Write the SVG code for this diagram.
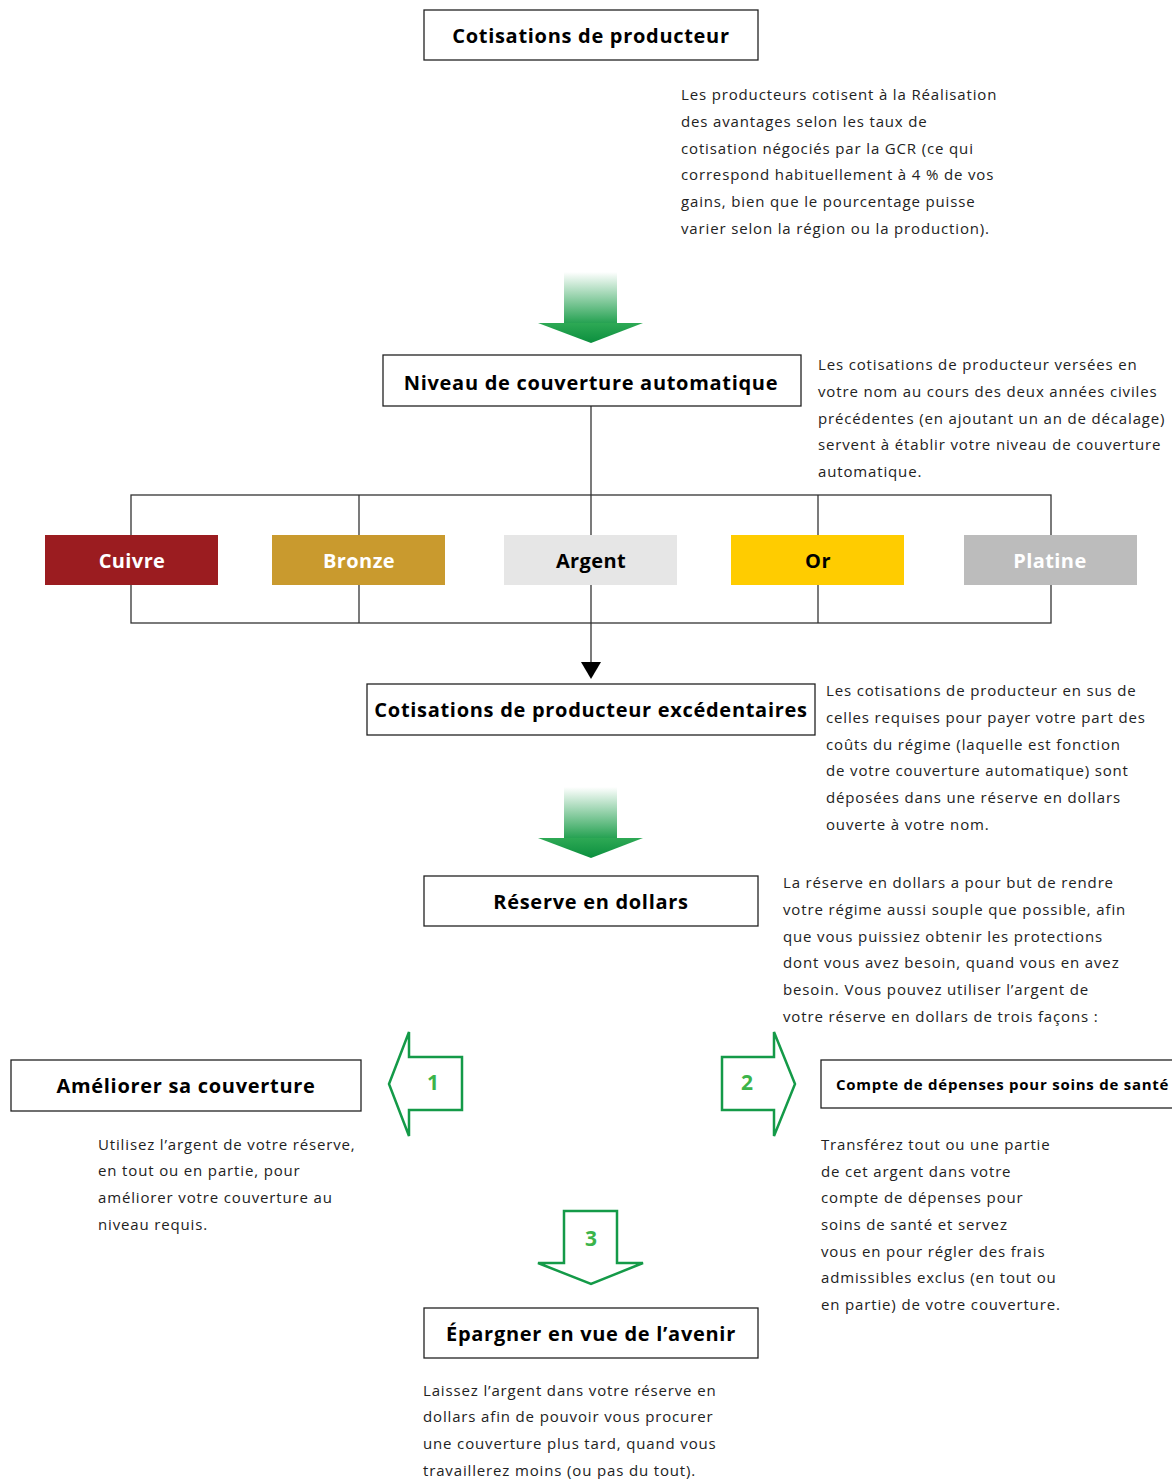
<svg xmlns="http://www.w3.org/2000/svg" width="1172" height="1479" viewBox="0 0 1172 1479">
<defs>
<linearGradient id="gshaft" x1="0" y1="0" x2="0" y2="1">
<stop offset="0" stop-color="#ffffff"/>
<stop offset="1" stop-color="#22a04f"/>
</linearGradient>
<linearGradient id="ghead" x1="0" y1="0" x2="0" y2="1">
<stop offset="0" stop-color="#2ea955"/>
<stop offset="1" stop-color="#0b8f3e"/>
</linearGradient>
</defs>
<style>
.box{fill:#fff;stroke:#222;stroke-width:1.3}
.title{font-family:"Open Sans","Liberation Sans",sans-serif;font-weight:bold;font-size:20px;fill:#000;text-anchor:middle;letter-spacing:0.7px}
.body{font-family:"Open Sans","Liberation Sans",sans-serif;font-size:15px;fill:#222;letter-spacing:0.85px}
.tier{font-family:"Open Sans","Liberation Sans",sans-serif;font-weight:bold;font-size:20px;text-anchor:middle;letter-spacing:0.4px}
.line{stroke:#333;stroke-width:1.3;fill:none}
.out{fill:#fff;stroke:#149a48;stroke-width:2.5}
.num{font-family:"Open Sans","Liberation Sans",sans-serif;font-weight:bold;font-size:21px;fill:#3bb44a;text-anchor:middle}
</style>

<g id="connectors">
<line class="line" x1="591" y1="406" x2="591" y2="495"/>
<rect class="line" x="131" y="495" width="920" height="128"/>
<line class="line" x1="359" y1="495" x2="359" y2="623"/>
<line class="line" x1="591" y1="495" x2="591" y2="623"/>
<line class="line" x1="818" y1="495" x2="818" y2="623"/>
<line class="line" x1="591" y1="623" x2="591" y2="663"/>
<path d="M581,662 L601,662 L591,679 z" fill="#000"/>
<g id="grad-arrow-1">
<rect x="564" y="272" width="53" height="52" fill="url(#gshaft)"/>
<path d="M538,323 L643,323 L591,343 z" fill="url(#ghead)"/>
</g>
<g id="grad-arrow-2">
<rect x="564" y="787" width="53" height="52" fill="url(#gshaft)"/>
<path d="M538,838 L643,838 L591,858 z" fill="url(#ghead)"/>
</g>
<g id="arrow-1">
<path class="out" d="M389,1084 L409,1032 L409,1057 L462,1057 L462,1110 L409,1110 L409,1136 z"/>
<text class="num" x="433" y="1090">1</text>
</g>
<g id="arrow-2">
<path class="out" d="M795,1084 L774,1032 L774,1057 L722,1057 L722,1110 L774,1110 L774,1136 z"/>
<text class="num" x="747" y="1090">2</text>
</g>
<g id="arrow-3">
<path class="out" d="M564,1211 L617,1211 L617,1263 L643,1263 L591,1284 L538,1263 L564,1263 z"/>
<text class="num" x="591" y="1246">3</text>
</g>
</g>

<g id="node-cotisations">
<rect class="box" x="424" y="10" width="334" height="50"/>
<text class="title" x="591" y="43">Cotisations de producteur</text>
</g>
<g id="text-cotisations">
<text class="body" x="681" y="100">Les producteurs cotisent à la Réalisation</text>
<text class="body" x="681" y="127">des avantages selon les taux de</text>
<text class="body" x="681" y="154">cotisation négociés par la GCR (ce qui</text>
<text class="body" x="681" y="180">correspond habituellement à 4 % de vos</text>
<text class="body" x="681" y="207">gains, bien que le pourcentage puisse</text>
<text class="body" x="681" y="234">varier selon la région ou la production).</text>
</g>

<g id="node-niveau">
<rect class="box" x="383" y="355" width="418" height="51"/>
<text class="title" x="591" y="390">Niveau de couverture automatique</text>
</g>
<g id="text-niveau">
<text class="body" x="818" y="370">Les cotisations de producteur versées en</text>
<text class="body" x="818" y="397">votre nom au cours des deux années civiles</text>
<text class="body" x="818" y="424">précédentes (en ajoutant un an de décalage)</text>
<text class="body" x="818" y="450">servent à établir votre niveau de couverture</text>
<text class="body" x="818" y="477">automatique.</text>
</g>

<g id="node-cuivre">
<rect x="45" y="535" width="173" height="50" fill="#9b1c20"/>
<text class="tier" x="132" y="568" fill="#fff">Cuivre</text>
</g>
<g id="node-bronze">
<rect x="272" y="535" width="173" height="50" fill="#c99a2e"/>
<text class="tier" x="359" y="568" fill="#fff">Bronze</text>
</g>
<g id="node-argent">
<rect x="504" y="535" width="173" height="50" fill="#e6e6e6"/>
<text class="tier" x="591" y="568" fill="#000">Argent</text>
</g>
<g id="node-or">
<rect x="731" y="535" width="173" height="50" fill="#ffcc00"/>
<text class="tier" x="818" y="568" fill="#000">Or</text>
</g>
<g id="node-platine">
<rect x="964" y="535" width="173" height="50" fill="#bcbcbc"/>
<text class="tier" x="1050" y="568" fill="#fff">Platine</text>
</g>

<g id="node-excedentaires">
<rect class="box" x="367" y="684" width="448" height="51"/>
<text class="title" x="591" y="717">Cotisations de producteur excédentaires</text>
</g>
<g id="text-excedentaires">
<text class="body" x="826" y="696">Les cotisations de producteur en sus de</text>
<text class="body" x="826" y="723">celles requises pour payer votre part des</text>
<text class="body" x="826" y="750">coûts du régime (laquelle est fonction</text>
<text class="body" x="826" y="776">de votre couverture automatique) sont</text>
<text class="body" x="826" y="803">déposées dans une réserve en dollars</text>
<text class="body" x="826" y="830">ouverte à votre nom.</text>
</g>

<g id="node-reserve">
<rect class="box" x="424" y="876" width="334" height="50"/>
<text class="title" x="591" y="909">Réserve en dollars</text>
</g>
<g id="text-reserve">
<text class="body" x="783" y="888">La réserve en dollars a pour but de rendre</text>
<text class="body" x="783" y="915">votre régime aussi souple que possible, afin</text>
<text class="body" x="783" y="942">que vous puissiez obtenir les protections</text>
<text class="body" x="783" y="968">dont vous avez besoin, quand vous en avez</text>
<text class="body" x="783" y="995">besoin. Vous pouvez utiliser l’argent de</text>
<text class="body" x="783" y="1022">votre réserve en dollars de trois façons :</text>
</g>

<g id="node-ameliorer">
<rect class="box" x="11" y="1060" width="350" height="51"/>
<text class="title" x="186" y="1093">Améliorer sa couverture</text>
</g>
<g id="text-ameliorer">
<text class="body" x="98" y="1150">Utilisez l’argent de votre réserve,</text>
<text class="body" x="98" y="1176">en tout ou en partie, pour</text>
<text class="body" x="98" y="1203">améliorer votre couverture au</text>
<text class="body" x="98" y="1230">niveau requis.</text>
</g>

<g id="node-compte">
<rect class="box" x="821" y="1060" width="360" height="48"/>
<text x="836" y="1090" font-family="'Open Sans','Liberation Sans',sans-serif" font-weight="bold" font-size="15px" letter-spacing="0.75px" fill="#000">Compte de dépenses pour soins de santé</text>
</g>
<g id="text-compte">
<text class="body" x="821" y="1150">Transférez tout ou une partie</text>
<text class="body" x="821" y="1177">de cet argent dans votre</text>
<text class="body" x="821" y="1203">compte de dépenses pour</text>
<text class="body" x="821" y="1230">soins de santé et servez</text>
<text class="body" x="821" y="1257">vous en pour régler des frais</text>
<text class="body" x="821" y="1283">admissibles exclus (en tout ou</text>
<text class="body" x="821" y="1310">en partie) de votre couverture.</text>
</g>

<g id="node-epargner">
<rect class="box" x="424" y="1308" width="334" height="50"/>
<text class="title" x="591" y="1341">Épargner en vue de l’avenir</text>
</g>
<g id="text-epargner">
<text class="body" x="423" y="1396">Laissez l’argent dans votre réserve en</text>
<text class="body" x="423" y="1422">dollars afin de pouvoir vous procurer</text>
<text class="body" x="423" y="1449">une couverture plus tard, quand vous</text>
<text class="body" x="423" y="1476">travaillerez moins (ou pas du tout).</text>
</g>
</svg>
